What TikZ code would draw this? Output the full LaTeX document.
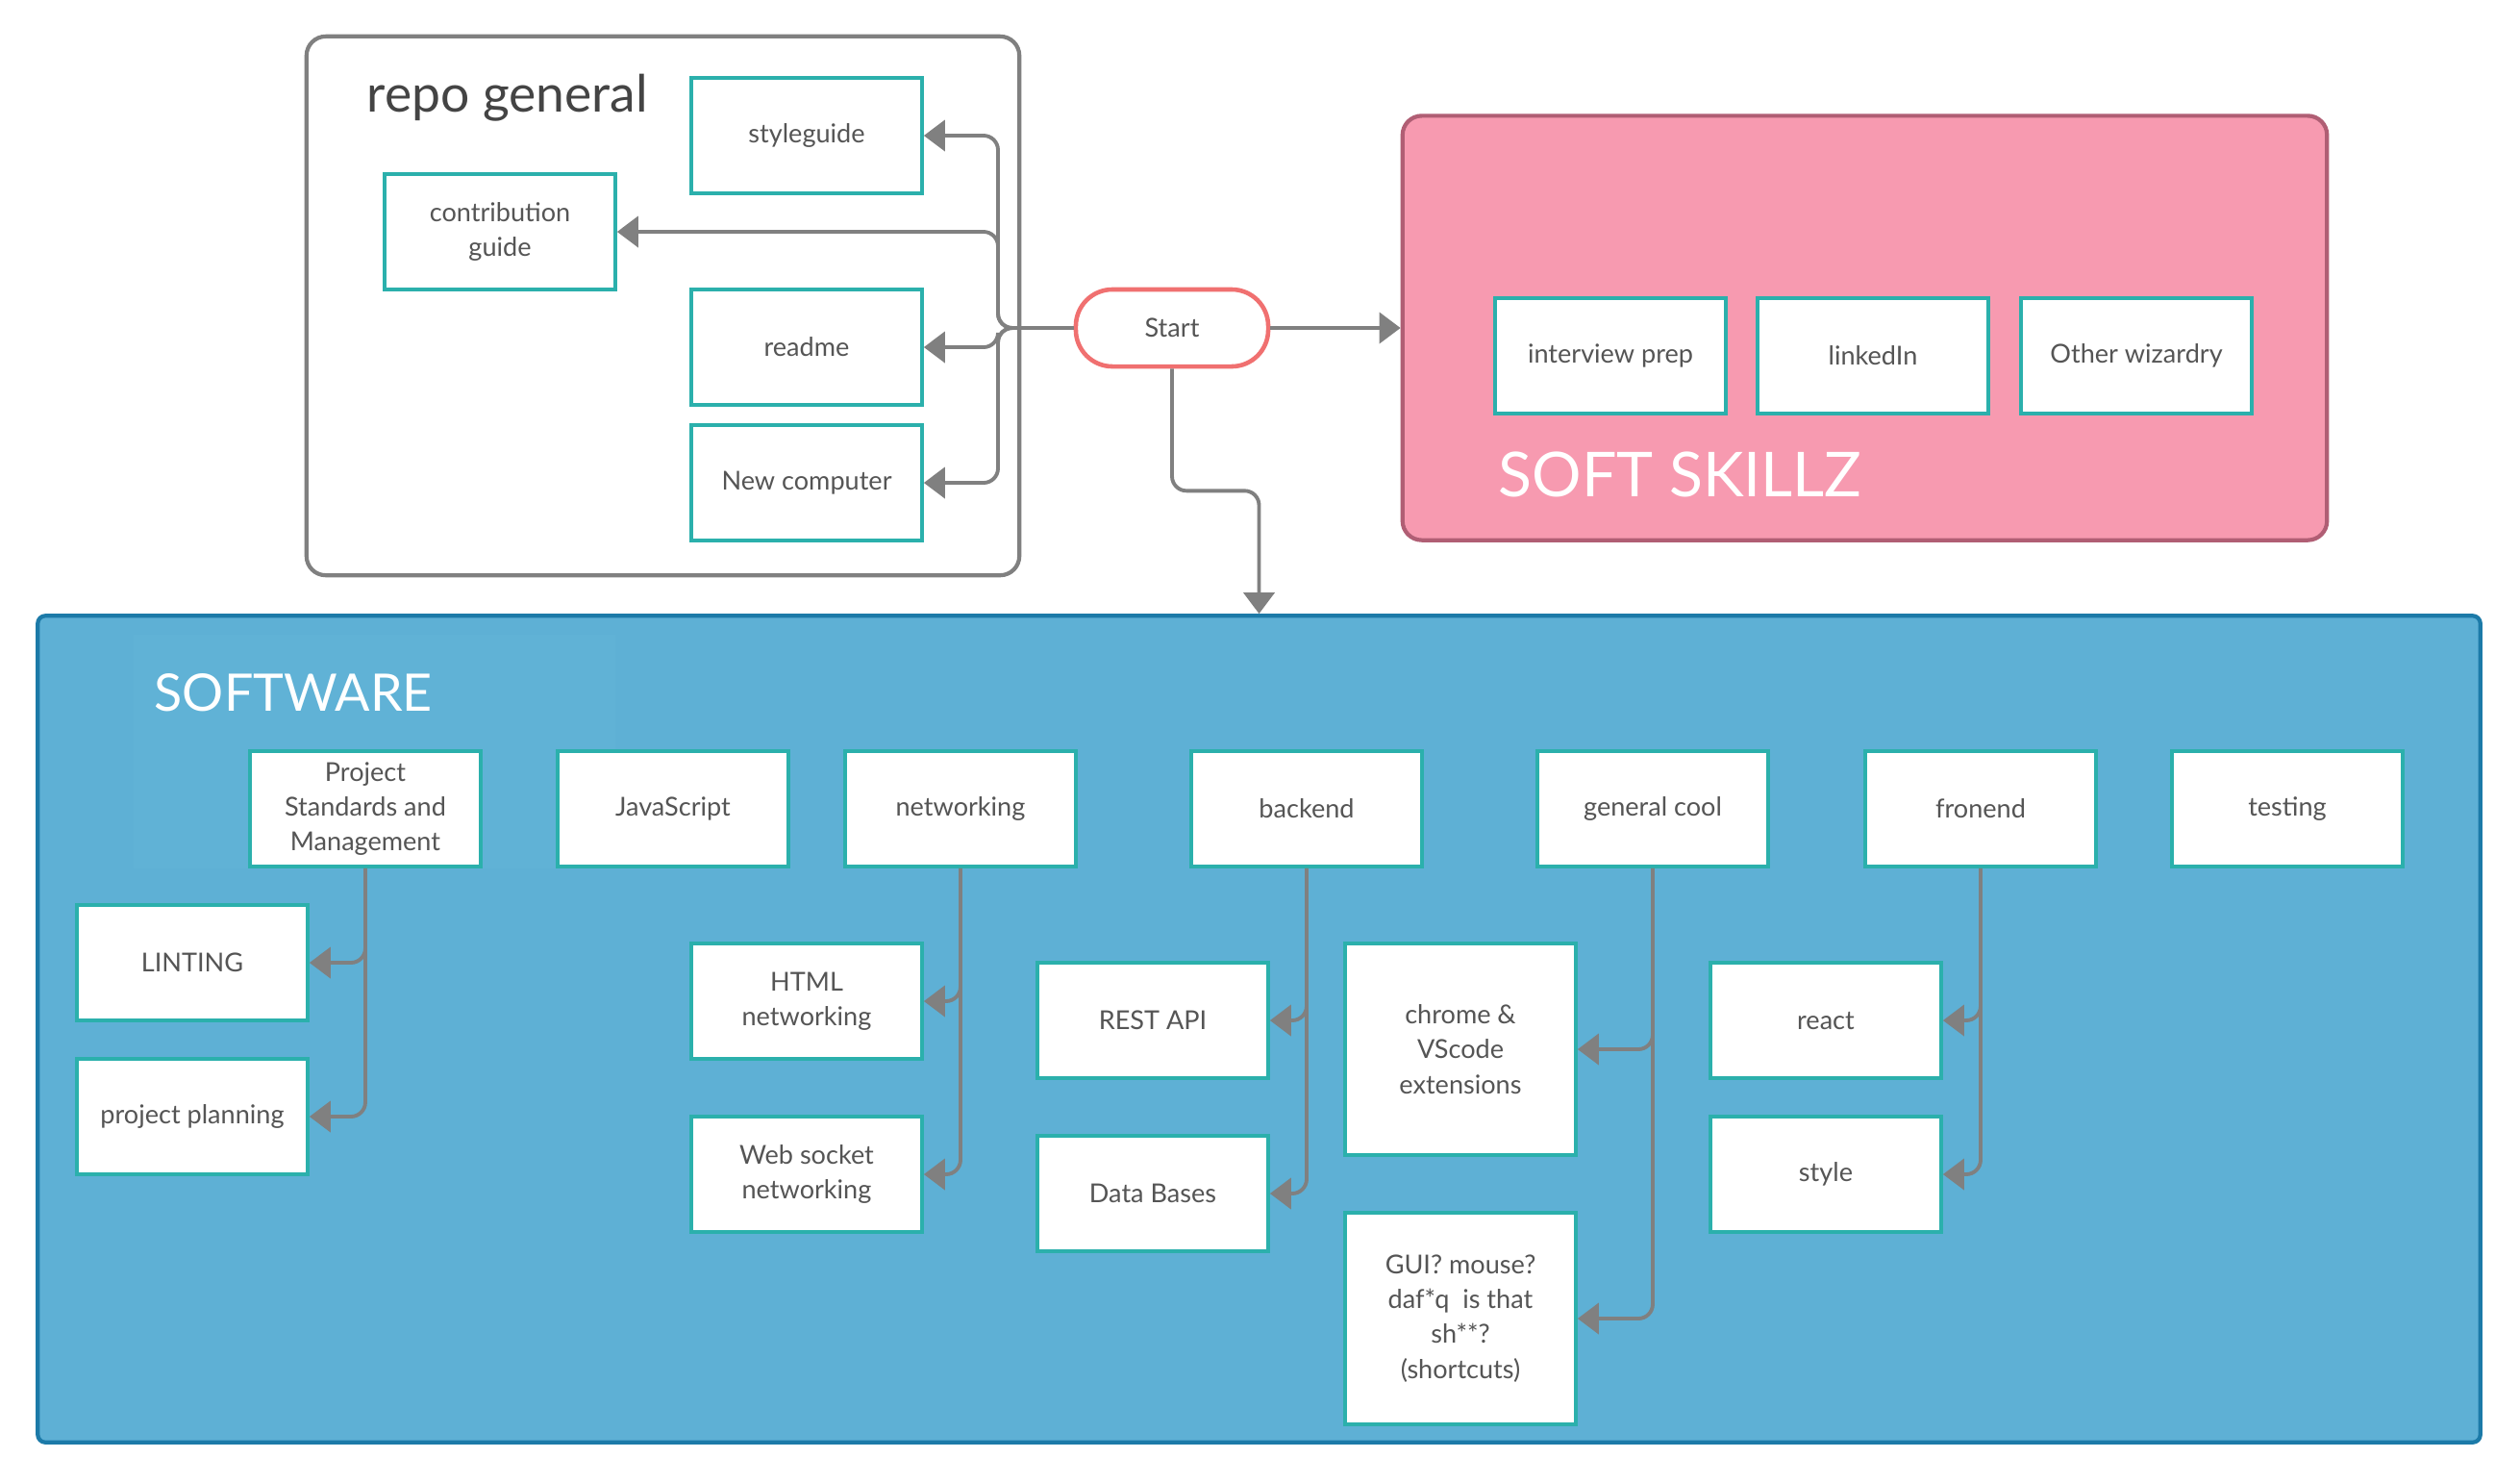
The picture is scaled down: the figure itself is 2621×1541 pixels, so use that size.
\documentclass[tikz,border=0pt]{standalone}
\usepackage{fontspec}
\setmainfont{Lato}
\usetikzlibrary{positioning}
\usetikzlibrary{arrows.meta}
\definecolor{boxteal}{RGB}{43,176,172}
\definecolor{txtgray}{RGB}{85,85,85}
\definecolor{titlegray}{RGB}{68,68,68}
\definecolor{linegray}{RGB}{128,128,128}
\definecolor{pinkfill}{RGB}{247,154,176}
\definecolor{pinkline}{RGB}{176,94,116}
\definecolor{swfill}{RGB}{94,176,213}
\definecolor{swlight}{RGB}{96,178,214}
\definecolor{swline}{RGB}{28,122,168}
\definecolor{startred}{RGB}{240,112,112}

\tikzset{
  topic/.style={draw=boxteal, line width=1pt, fill=white, minimum width=2.4cm,
    minimum height=1.2cm, align=center, inner sep=0pt, text=txtgray,
    font=\fontsize{7.7}{10.3}\selectfont},
  conn/.style={draw=linegray, line width=1.1pt, rounded corners=0.15cm,
    -{Triangle[length=0.22cm,width=0.32cm]}},
  bigtitle/.style={anchor=west, inner sep=0pt}
}

\begin{document}
\begin{tikzpicture}[x=0.01cm, y=-0.01cm]
    \useasboundingbox (0,0) rectangle (2621,1541);

    % repo general panel
    \node[draw=linegray, line width=1.2pt, rounded corners=0.2cm, minimum width=7.41cm, minimum height=5.6cm] (repo) at (689.5, 318) {};
    \node[bigtitle, text=titlegray, font=\fontsize{15.2}{18}\selectfont] (repotitle) at (381, 102) {repo general};
    \node[topic] (styleguide) at (839, 141) {styleguide};
    \node[topic] (contrib) at (520, 241) {contribution\\guide};
    \node[topic] (readme) at (839, 361) {readme};
    \node[topic] (newcomp) at (839, 502) {New computer};

    % Start
    \node[draw=startred, line width=1.3pt, fill=white, rounded corners=0.38cm, minimum width=2cm, minimum height=0.8cm, text=txtgray, font=\fontsize{7.7}{10.3}\selectfont] (start) at (1219, 341) {Start};
    \coordinate (bus) at (1038, 341);

    % SOFT SKILLZ panel
    \node[draw=pinkline, fill=pinkfill, line width=1.2pt, rounded corners=0.2cm, minimum width=9.61cm, minimum height=4.41cm] (soft) at (1939.5, 341) {};
    \node[topic] (interview) at (1675, 370) {interview prep};
    \node[topic] (linkedin) at (1948, 370) {linkedIn};
    \node[topic] (wizardry) at (2222, 370) {Other wizardry};
    \node[bigtitle, text=white, font=\fontsize{18.3}{22}\selectfont] (softtitle) at (1558, 493) {SOFT SKILLZ};

    % SOFTWARE panel
    \node[draw=swline, fill=swfill, line width=1.2pt, rounded corners=0.08cm, minimum width=25.39cm, minimum height=8.59cm] (sw) at (1309.5, 1070) {};
    \fill[swlight] (139, 660) rectangle (640, 903);
    \node[bigtitle, text=white, font=\fontsize{15.3}{18}\selectfont] (swtitle) at (160, 720) {SOFTWARE};

    \node[topic] (projstd) at (380, 841) {Project\\Standards and\\Management};
    \node[topic] (js) at (700, 841) {JavaScript};
    \node[topic] (net) at (999, 841) {networking};
    \node[topic] (backend) at (1359, 841) {backend};
    \node[topic] (cool) at (1719, 841) {general cool};
    \node[topic] (fronend) at (2060, 841) {fronend};
    \node[topic] (testing) at (2379, 841) {testing};

    \node[topic] (linting) at (200, 1001) {LINTING};
    \node[topic] (planning) at (200, 1161) {project planning};
    \node[topic] (html) at (839, 1041) {HTML\\networking};
    \node[topic] (websock) at (839, 1221) {Web socket\\networking};
    \node[topic] (rest) at (1199, 1061) {REST API};
    \node[topic] (db) at (1199, 1241) {Data Bases};
    \node[topic, minimum height=2.2cm] (chrome) at (1519, 1091) {chrome \&\\VScode\\extensions};
    \node[topic, minimum height=2.2cm] (gui) at (1519, 1371) {GUI? mouse?\\daf*q~ is that\\sh**?\\(shortcuts)};
    \node[topic] (react) at (1899, 1061) {react};
    \node[topic] (style) at (1899, 1221) {style};

    % connectors
    \draw[conn] (start.west) -- (bus) |- (styleguide.east);
    \draw[conn] (start.west) -- (bus) |- (contrib.east);
    \draw[conn] (start.west) -- (bus) |- (readme.east);
    \draw[conn] (start.west) -- (bus) |- (newcomp.east);
    \draw[conn] (start.east) -- (soft.west);
    \draw[conn] (start.south) -- ++(0, 127) -| (sw.north);

    \draw[conn] (projstd.south) |- (linting.east);
    \draw[conn] (projstd.south) |- (planning.east);
    \draw[conn] (net.south) |- (html.east);
    \draw[conn] (net.south) |- (websock.east);
    \draw[conn] (backend.south) |- (rest.east);
    \draw[conn] (backend.south) |- (db.east);
    \draw[conn] (cool.south) |- (chrome.east);
    \draw[conn] (cool.south) |- (gui.east);
    \draw[conn] (fronend.south) |- (react.east);
    \draw[conn] (fronend.south) |- (style.east);
\end{tikzpicture}
\end{document}
